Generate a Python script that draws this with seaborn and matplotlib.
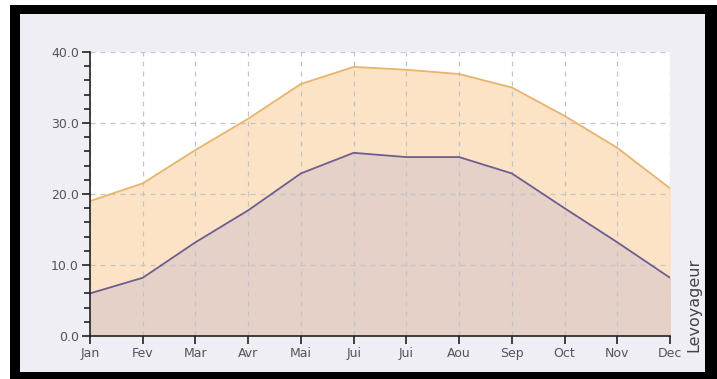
import matplotlib
matplotlib.use("Agg")
import matplotlib.pyplot as plt
import seaborn as sns
from matplotlib.patches import Rectangle
from matplotlib.ticker import MultipleLocator, FormatStrFormatter

# Données (températures moyennes)
mois = ["Jan", "Fev", "Mar", "Avr", "Mai", "Jui", "Jui", "Aou", "Sep", "Oct", "Nov", "Dec"]
temp_max = [19.0, 21.5, 26.2, 30.6, 35.5, 37.9, 37.5, 36.9, 35.0, 31.0, 26.5, 20.8]
temp_min = [6.0, 8.2, 13.2, 17.7, 22.9, 25.8, 25.2, 25.2, 22.9, 18.0, 13.2, 8.2]

sns.set_style("white")
plt.rcParams["font.family"] = ["DejaVu Sans"]

fig = plt.figure(figsize=(7.17, 3.79), dpi=100)
fig.patch.set_facecolor("white")
W, H = 717, 379
# cadre noir + fond lavande
fig.patches.append(Rectangle((10 / W, 0), 707 / W, 374 / H, transform=fig.transFigure,
                             facecolor="black", edgecolor="none", zorder=-2))
fig.patches.append(Rectangle((20 / W, 7 / H), 685 / W, 358 / H, transform=fig.transFigure,
                             facecolor="#EEEEF4", edgecolor="none", zorder=-1))

ax = fig.add_axes([90 / W, 43 / H, 580 / W, 284 / H])
ax.set_facecolor("white")
x = list(range(len(mois)))

ax.fill_between(x, 0, temp_max, color="#FCE3C6", zorder=1)
ax.fill_between(x, 0, temp_min, color="#E6D1C8", zorder=2)
sns.lineplot(x=x, y=temp_max, ax=ax, color="#E8B46E", linewidth=1.3, zorder=3)
sns.lineplot(x=x, y=temp_min, ax=ax, color="#6E5E8E", linewidth=1.3, zorder=3)

ax.set_xlim(0, 11)
ax.set_ylim(0, 40)
ax.set_xticks(x)
ax.set_xticklabels(mois)
ax.yaxis.set_major_locator(MultipleLocator(10))
ax.yaxis.set_minor_locator(MultipleLocator(2))
ax.yaxis.set_major_formatter(FormatStrFormatter("%.1f"))

ax.grid(True, which="major", color="#C4C4C4", linestyle=(0, (4, 4)), linewidth=0.9, zorder=4)
ax.set_axisbelow(False)
for s in ["top", "right"]:
    ax.spines[s].set_visible(False)
for s in ["left", "bottom"]:
    ax.spines[s].set_color("#222222")
    ax.spines[s].set_linewidth(1.2)
    ax.spines[s].set_zorder(5)

ax.tick_params(axis="both", which="major", direction="out", length=6, width=1.2,
               color="#222222", labelcolor="#555555", labelsize=9, pad=2)
ax.tick_params(axis="y", which="both", left=True)
ax.tick_params(axis="y", which="minor", direction="out", length=4, width=1.2, color="#222222")
ax.tick_params(axis="x", which="major", bottom=True)
ax.tick_params(axis="x", which="minor", bottom=False)

fig.text(686 / W, 27 / H, "Levoyageur", rotation=90, fontsize=11.5, color="#444444",
         ha="left", va="bottom")

fig.savefig("out.png", dpi=100)
